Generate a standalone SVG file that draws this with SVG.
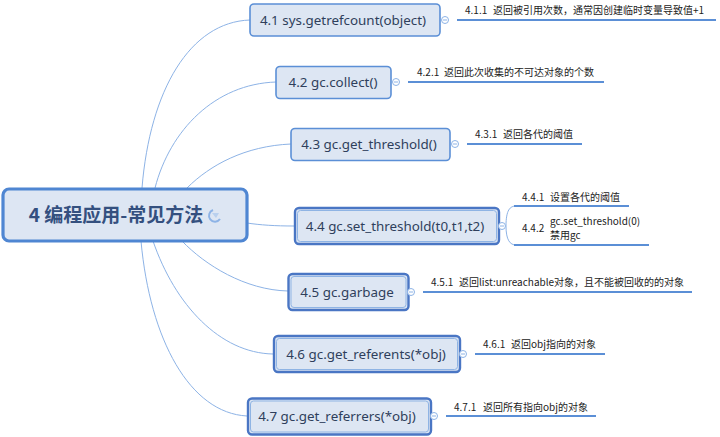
<svg xmlns="http://www.w3.org/2000/svg" width="720" height="437" viewBox="0 0 720 437">
<style>
.bg{fill:#fff}
.n{fill:#dde6f3;stroke:#5b8fd6;stroke-width:1.6}
.o{fill:#dde6f3;stroke:#4a76c4;stroke-width:2.4}
.i{fill:none;stroke:#8fb4e4;stroke-width:1}
.t{font-family:"Noto Sans","Noto Sans CJK SC",sans-serif;font-size:13.4px;fill:#2f3f5c;text-anchor:middle}
.s{font-family:"Noto Sans CJK SC","Noto Sans",sans-serif;font-size:10px;fill:#222}
.c{fill:none;stroke:#8db3e6;stroke-width:1}
.u{fill:none;stroke:#5b8fd6;stroke-width:2}
.k{fill:#fff;stroke:#8db3e6;stroke-width:1}
.d{stroke:#8db3e6;stroke-width:1}
</style>
<rect class="bg" width="720" height="437"/>
<g id="connectors">
<path class="c" d="M142 188C150 90 190 22 250 20"/>
<path class="c" d="M155 188C170 130 215 84 276 82"/>
<path class="c" d="M187 188C210 165 245 146 291 144"/>
<path class="c" d="M247 223C260 225 275 226 294 226"/>
<path class="c" d="M182 241C205 265 245 290 288 291"/>
<path class="c" d="M153 241C175 305 220 353 273 354"/>
<path class="c" d="M141 241C150 340 190 413 247 416"/>
<path class="c" d="M506 226C506 210 510 206 516 206M506 226C506 240 510 245 516 245"/>
<path class="u" d="M457 20H716M408 82H604M467 144H582M514 206H629M514 245H649M423 292H692M475 354H605M446 416H596"/>
</g>
<g id="n4"><rect x="3" y="189" width="244" height="52" rx="6" fill="#dde6f3" stroke="#4f86d2" stroke-width="3.2"/><text x="116" y="222" font-family="'Noto Sans CJK SC','Noto Sans',sans-serif" font-size="19" font-weight="700" fill="#34507f" text-anchor="middle">4 编程应用-常见方法</text><path d="M213 210a6 6 0 1 0 7 9" fill="none" stroke="#8db3e6" stroke-width="2"/><path d="M212 213l4 5 3-5z" fill="#b9d0ee"/></g>
<g id="n41"><rect class="n" x="250" y="4" width="190" height="32" rx="4"/><text class="t" x="343" y="25">4.1 sys.getrefcount(object)</text></g>
<g id="n42"><rect class="n" x="276" y="66.500" width="115" height="32" rx="4"/><text class="t" x="333" y="87">4.2 gc.collect()</text></g>
<g id="n43"><rect class="n" x="291" y="128.500" width="159" height="32" rx="4"/><text class="t" x="369" y="149">4.3 gc.get_threshold()</text></g>
<g id="n44"><rect class="o" x="295" y="208" width="204" height="36" rx="4"/><rect class="i" x="297.500" y="210.500" width="199" height="31" rx="3"/><text class="t" x="395" y="231">4.4 gc.set_threshold(t0,t1,t2)</text></g>
<g id="n45"><rect class="o" x="288.500" y="274" width="120" height="36" rx="4"/><rect class="i" x="291" y="276.500" width="115" height="31" rx="3"/><text class="t" x="347" y="297">4.5 gc.garbage</text></g>
<g id="n46"><rect class="o" x="274" y="336" width="186" height="36" rx="4"/><rect class="i" x="276.500" y="338.500" width="181" height="31" rx="3"/><text class="t" x="366" y="359">4.6 gc.get_referents(*obj)</text></g>
<g id="n47"><rect class="o" x="248" y="398.500" width="183" height="36" rx="4"/><rect class="i" x="250.500" y="401" width="178" height="31" rx="3"/><text class="t" x="337" y="421">4.7 gc.get_referrers(*obj)</text></g>
<g id="toggles">
<circle class="k" cx="445" cy="20" r="3.500"/><path class="d" d="M443 20H447"/>
<circle class="k" cx="396" cy="82" r="3.500"/><path class="d" d="M394 82H398"/>
<circle class="k" cx="455" cy="144" r="3.500"/><path class="d" d="M453 144H457"/>
<circle class="k" cx="502" cy="226" r="3.500"/><path class="d" d="M500 226H504"/>
<circle class="k" cx="411" cy="292" r="3.500"/><path class="d" d="M409 292H413"/>
<circle class="k" cx="463" cy="354" r="3.500"/><path class="d" d="M461 354H465"/>
<circle class="k" cx="434" cy="416" r="3.500"/><path class="d" d="M432 416H436"/>
</g>
<g id="n411"><text class="s" x="465" y="14">4.1.1<tspan x="493">返回被引用次数，通常因创建临时变量导致值+1</tspan></text></g>
<g id="n421"><text class="s" x="417" y="76">4.2.1<tspan x="444">返回此次收集的不可达对象的个数</tspan></text></g>
<g id="n431"><text class="s" x="475" y="138">4.3.1<tspan x="503">返回各代的阈值</tspan></text></g>
<g id="n441"><text class="s" x="522" y="201">4.4.1<tspan x="550">设置各代的阈值</tspan></text></g>
<g id="n442"><text class="s" x="522" y="232">4.4.2</text><text class="s" x="550" y="225">gc.set_threshold(0)</text><text class="s" x="550" y="239">禁用gc</text></g>
<g id="n451"><text class="s" x="431" y="286">4.5.1<tspan x="459">返回list:unreachable对象，且不能被回收的的对象</tspan></text></g>
<g id="n461"><text class="s" x="483" y="348">4.6.1<tspan x="511">返回obj指向的对象</tspan></text></g>
<g id="n471"><text class="s" x="454" y="411">4.7.1<tspan x="483">返回所有指向obj的对象</tspan></text></g>
</svg>
